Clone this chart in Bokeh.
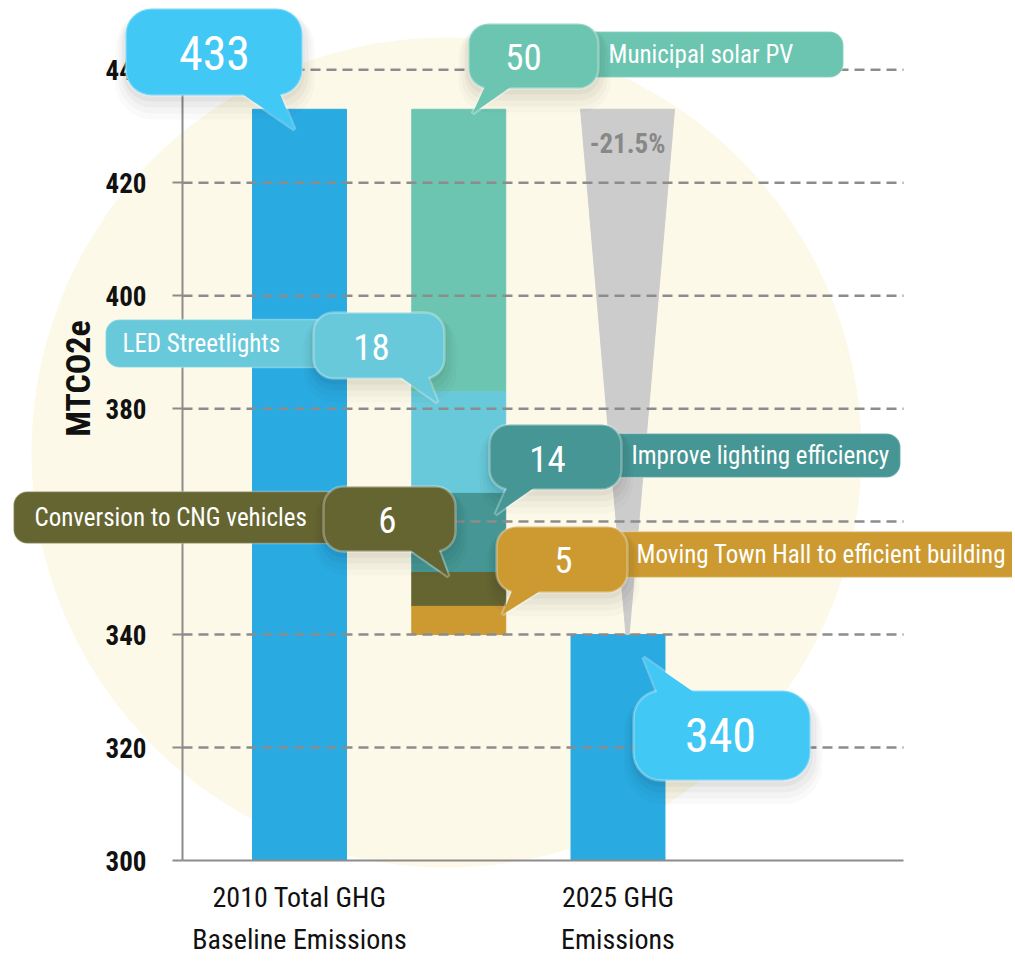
import numpy as np
from bokeh.plotting import figure
from bokeh.models import Range1d, FixedTicker, BoxAnnotation, PolyAnnotation, Label
from bokeh.embed import file_html
from bokeh.resources import INLINE

# ---------------- data ----------------
bar_positions = [1, 2, 3]
category_labels = ["2010 Total GHG\nBaseline Emissions", "", "2025 GHG\nEmissions"]
baseline_2010 = 433
emissions_2025 = 340
measure_names = ["Municipal solar PV", "LED Streetlights", "Improve lighting efficiency",
                 "Conversion to CNG vehicles", "Moving Town Hall to efficient building"]
measure_values = [50, 18, 14, 6, 5]
measure_colors = ["#6CC5B1", "#68C9DA", "#459694", "#656532", "#CC9A30"]
y_ticks = [300, 320, 340, 360, 380, 400, 420, 440]

# ---------------- styling / layout ----------------
FONT = "Roboto Condensed, Roboto, sans-serif"
BAR_BLUE = "#29ABE2"
BUBBLE_BLUE = "#42C8F5"
GRID = "#8C8C8C"
W, H = 1012, 960
PXU = 159.25          # screen pixels per x unit
PYU = 819 / 145       # screen pixels per y unit


def X(px):
    return 1 + (px - 299) / PXU


def Y(py):
    return 300 + (860 - py) / PYU


p = figure(width=W, height=H, output_backend="svg", toolbar_location=None,
           x_range=Range1d(X(0), X(W)), y_range=Range1d(Y(H), Y(0)),
           min_border=0, min_border_left=0, min_border_right=0, min_border_top=0, min_border_bottom=0)
p.outline_line_color = None
p.background_fill_color = "white"
p.border_fill_color = "white"
p.grid.visible = False

AXIS_X = X(182)
AXIS_RIGHT = X(903)

# background circle
t = np.linspace(0, 2 * np.pi, 240)
p.add_layout(PolyAnnotation(xs=[X(446 + 415 * np.cos(a)) for a in t],
                            ys=[Y(452 + 415 * np.sin(a)) for a in t],
                            fill_color="#FDF9E8", fill_alpha=1, line_alpha=0, level="underlay"))

# bars
p.vbar(x=[bar_positions[0], bar_positions[2]], top=[baseline_2010, emissions_2025], bottom=y_ticks[0],
       width=0.59, color=BAR_BLUE)
tops = baseline_2010 - np.concatenate([[0], np.cumsum(measure_values)[:-1]])
bottoms = baseline_2010 - np.cumsum(measure_values)
p.vbar(x=bar_positions[1], top=tops, bottom=bottoms, width=0.59, color=measure_colors)

# reduction wedge
wc = bar_positions[2] + 0.06
p.patch([wc - 0.295, wc + 0.295, wc + 0.01, wc - 0.01],
        [baseline_2010, baseline_2010, emissions_2025, emissions_2025], color="#CCCCCC")
pct = (emissions_2025 - baseline_2010) / baseline_2010 * 100
p.add_layout(Label(x=wc, y=Y(143), text=f"{pct:.1f}%", text_align="center", text_baseline="middle",
                   text_font=FONT, text_font_style="bold", text_font_size="27px", text_color="#888888"))

# dashed grid lines (above the bars)
p.segment(x0=AXIS_X, x1=AXIS_RIGHT, y0=y_ticks[1:], y1=y_ticks[1:], line_color=GRID,
          line_width=2.5, line_dash="10 6", level="guide")

# axes
p.yaxis.fixed_location = AXIS_X
p.yaxis.bounds = (y_ticks[0], 446)
p.yaxis.ticker = FixedTicker(ticks=y_ticks)
p.yaxis.axis_line_color = GRID
p.yaxis.axis_line_width = 2
p.yaxis.major_tick_line_color = GRID
p.yaxis.major_tick_line_width = 2
p.yaxis.major_tick_out = 10
p.yaxis.major_tick_in = 0
p.yaxis.minor_tick_line_color = None
p.yaxis.major_label_standoff = 26
p.yaxis.major_label_text_font = FONT
p.yaxis.major_label_text_font_style = "bold"
p.yaxis.major_label_text_font_size = "27px"
p.yaxis.major_label_text_color = "#111111"

p.xaxis.fixed_location = y_ticks[0]
p.xaxis.bounds = (AXIS_X, AXIS_RIGHT)
p.xaxis.ticker = FixedTicker(ticks=[bar_positions[0], bar_positions[2]])
p.xaxis.major_label_overrides = {bar_positions[0]: category_labels[0], bar_positions[2]: category_labels[2]}
p.xaxis.axis_line_color = GRID
p.xaxis.axis_line_width = 2
p.xaxis.major_tick_line_color = None
p.xaxis.minor_tick_line_color = None
p.xaxis.major_tick_out = 0
p.xaxis.major_tick_in = 0
p.xaxis.major_label_standoff = 20
p.xaxis.major_label_text_font = FONT
p.xaxis.major_label_text_font_size = "28px"
p.xaxis.major_label_text_line_height = 1.3
p.xaxis.major_label_text_color = "#111111"

p.add_layout(Label(x=X(77), y=Y(378), text="MTCO2e", angle=np.pi / 2, text_align="center",
                   text_baseline="middle", text_font=FONT, text_font_style="bold",
                   text_font_size="34px", text_color="#111111"))


def label_box(l, r, t, b, color, text, tx):
    p.add_layout(BoxAnnotation(left=X(l), right=X(r), top=Y(t), bottom=Y(b), fill_color=color,
                               fill_alpha=1, line_color="white", line_width=1.5, border_radius=14))
    p.add_layout(Label(x=X(tx), y=Y((t + b) / 2), text=text, text_align="left", text_baseline="middle",
                       text_font=FONT, text_font_size="25px", text_color="white"))


def bubble(l, r, t, b, tail, color, text, center, size, rad=20):
    up = tail[1][1] < t  # tail pointing upward
    for dx, dy, grow, a in [(1, 13, 11, 0.018), (1, 10, 8, 0.022), (1, 7, 5, 0.03), (0, 4, 2, 0.04)]:
        p.add_layout(BoxAnnotation(left=X(l + dx - grow), right=X(r + dx + grow), top=Y(t + dy - grow),
                                   bottom=Y(b + dy + grow), fill_color="black", fill_alpha=a,
                                   line_alpha=0, border_radius=rad + grow))
    shift = 5 if up else -5
    txs = [X(tail[0][0]), X(tail[1][0]), X(tail[2][0])]
    tys = [Y(tail[0][1] + shift), Y(tail[1][1]), Y(tail[2][1] + shift)]
    p.add_layout(PolyAnnotation(xs=txs, ys=tys, fill_color=color, fill_alpha=1,
                                line_color="white", line_width=4))
    p.add_layout(BoxAnnotation(left=X(l), right=X(r), top=Y(t), bottom=Y(b), fill_color=color,
                               fill_alpha=1, line_color="white", line_width=2.5, border_radius=rad))
    p.add_layout(PolyAnnotation(xs=txs, ys=tys, fill_color=color, fill_alpha=1, line_alpha=0))
    p.add_layout(Label(x=X(center[0]), y=Y(center[1]), text=text, text_align="center",
                       text_baseline="middle", text_font=FONT, text_font_size=size, text_color="white"))


# baseline bubble
bubble(125, 302, 8, 95, [(237, 95), (294, 129), (278, 95)], BUBBLE_BLUE, str(baseline_2010),
       (214, 52), "48px", 26)

# measures
label_box(560, 843, 31, 77, measure_colors[0], measure_names[0], 608)
bubble(468, 598, 23, 88, [(486, 88), (472, 113), (515, 88)], measure_colors[0], str(measure_values[0]),
       (523, 56), "37px")

label_box(105, 340, 319, 367, measure_colors[1], measure_names[1], 122)
bubble(313, 444, 312, 378, [(395, 378), (437, 402), (426, 378)], measure_colors[1], str(measure_values[1]),
       (371, 346), "37px")

label_box(600, 900, 433, 477, measure_colors[2], measure_names[2], 631)
bubble(489, 621, 424, 489, [(508, 489), (495, 514), (538, 489)], measure_colors[2], str(measure_values[2]),
       (547, 458), "37px")

label_box(13, 340, 491, 543, measure_colors[3], measure_names[3], 34)
bubble(323, 455, 486, 551, [(405, 551), (448, 576), (437, 551)], measure_colors[3], str(measure_values[3]),
       (387, 519), "37px")

label_box(600, 1040, 531, 577, measure_colors[4], measure_names[4], 636)
bubble(496, 627, 526, 592, [(513, 592), (502, 614), (545, 592)], measure_colors[4], str(measure_values[4]),
       (563, 559), "37px")

# 2025 bubble
bubble(633, 810, 690, 780, [(658, 690), (643, 657), (698, 690)], BUBBLE_BLUE, str(emissions_2025),
       (720, 734), "48px", 28)

open("out.html", "w").write(file_html(p, INLINE))
